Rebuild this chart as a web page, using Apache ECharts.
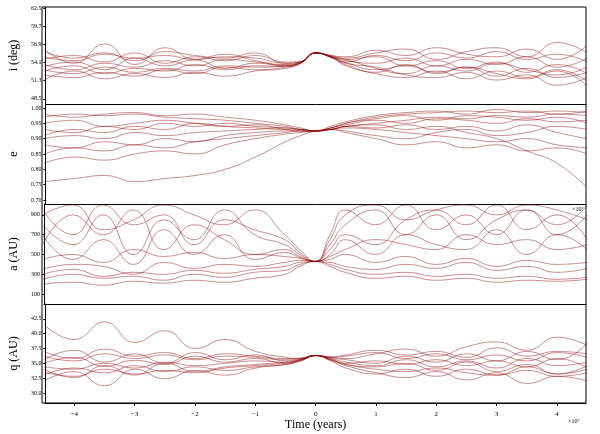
<!DOCTYPE html><html><head><meta charset="utf-8">
<script src="https://cdn.jsdelivr.net/npm/echarts@6/dist/echarts.min.js"></script>
<style>html,body{margin:0;background:#fff}#c{width:600px;height:434px}</style></head><body><div id="c"></div>
<script>
const times=[-4.5,-4,-3.5,-3,-2.5,-2,-1.5,-1,-0.5,-0.25,0,0.25,0.5,1,1.5,2,2.5,3,3.5,4,4.5];
const xTicks=[-4,-3,-2,-1,0,1,2,3,4];
const incl=[
[53.5,54.2,53.0,54.8,53.6,54.5,53.2,54.0,53.6,54.2,55.6,55.0,54.6,53.2,52.4,53.6,52.8,54.0,53.0,52.2,53.4],
[52.2,51.8,52.6,52.0,53.0,52.4,53.4,53.0,53.4,54.0,55.6,55.1,54.2,55.2,54.4,55.6,54.8,55.8,54.6,55.4,54.2],
[55.0,54.4,55.4,54.8,55.2,54.6,55.0,54.8,54.0,54.2,55.6,54.9,53.8,52.6,53.8,52.4,53.4,52.0,53.2,51.8,52.6],
[56.2,54.0,57.0,53.8,56.4,54.6,55.4,54.4,53.7,54.1,55.6,55.2,54.8,55.6,56.2,54.6,55.8,56.4,55.0,57.2,55.6],
[51.4,52.8,51.6,52.4,51.8,52.6,52.0,52.8,53.2,54.0,55.6,55.0,54.0,53.4,52.2,51.8,52.6,51.4,52.2,50.6,51.8],
[53.8,53.0,54.0,53.4,54.4,53.6,54.6,54.2,53.8,54.2,55.6,55.0,54.4,54.0,54.8,53.6,54.6,53.8,55.0,53.4,54.8],
[54.6,55.2,54.2,55.6,54.0,55.0,54.4,55.2,54.2,54.3,55.6,55.1,54.6,55.0,53.6,54.4,53.2,54.2,52.6,53.8,52.4],
[52.8,53.6,52.4,53.2,52.8,53.8,53.0,53.6,53.5,54.0,55.6,55.0,54.1,53.0,53.6,52.6,53.4,52.4,51.6,52.8,50.4],
[55.8,54.8,55.6,54.4,55.8,55.2,54.8,55.6,54.0,54.2,55.6,55.2,55.0,56.0,55.2,56.4,55.4,55.0,56.2,54.6,56.8],
[53.0,52.4,53.4,52.6,53.2,52.8,53.6,53.4,53.6,54.1,55.6,54.9,53.6,52.4,51.8,52.8,51.6,52.8,51.8,53.0,51.2]];
const ecc=[
[0.95,0.96,0.94,0.95,0.96,0.95,0.94,0.945,0.93,0.925,0.925,0.93,0.94,0.95,0.96,0.97,0.965,0.975,0.97,0.98,0.975],
[0.90,0.91,0.90,0.92,0.91,0.92,0.925,0.93,0.935,0.93,0.925,0.93,0.935,0.93,0.92,0.91,0.90,0.89,0.90,0.88,0.87],
[0.97,0.98,0.975,0.98,0.97,0.965,0.96,0.95,0.94,0.93,0.925,0.935,0.95,0.97,0.98,0.985,0.99,0.985,0.99,0.98,0.99],
[0.85,0.87,0.86,0.88,0.87,0.89,0.90,0.91,0.92,0.925,0.925,0.93,0.94,0.945,0.93,0.94,0.92,0.90,0.86,0.82,0.74],
[0.76,0.77,0.78,0.76,0.77,0.78,0.80,0.84,0.89,0.91,0.925,0.93,0.92,0.90,0.88,0.89,0.87,0.88,0.86,0.87,0.85],
[0.93,0.92,0.94,0.93,0.95,0.94,0.95,0.94,0.935,0.93,0.925,0.935,0.945,0.96,0.95,0.965,0.96,0.95,0.965,0.955,0.96],
[0.98,0.97,0.98,0.985,0.975,0.98,0.97,0.96,0.945,0.935,0.925,0.94,0.955,0.975,0.985,0.99,0.98,0.995,0.985,0.99,0.985],
[0.82,0.84,0.83,0.85,0.86,0.85,0.88,0.90,0.915,0.92,0.925,0.93,0.925,0.91,0.90,0.92,0.93,0.91,0.92,0.94,0.93],
[0.91,0.93,0.92,0.94,0.93,0.95,0.94,0.935,0.93,0.93,0.925,0.935,0.95,0.965,0.975,0.96,0.975,0.97,0.96,0.97,0.95],
[0.88,0.87,0.89,0.88,0.90,0.89,0.91,0.92,0.925,0.925,0.925,0.93,0.94,0.935,0.945,0.93,0.94,0.925,0.945,0.92,0.90]];
const semi=[
[800,600,900,500,850,650,950,700,600,500,430,600,800,950,700,900,650,850,950,700,900],
[300,350,280,320,300,340,310,350,380,420,430,450,500,420,480,400,460,380,440,400,420],
[600,900,700,950,550,800,650,500,550,480,430,550,700,600,850,950,800,1000,750,900,650],
[200,220,190,230,210,240,220,260,300,380,430,400,350,300,320,280,300,260,280,250,270],
[950,700,1000,800,900,600,850,750,650,520,430,700,950,800,1000,750,900,700,950,800,1000],
[450,500,420,550,480,520,460,500,480,460,430,480,550,650,600,550,700,600,650,550,600],
[700,450,650,400,750,500,700,450,520,470,430,500,650,500,700,600,550,750,500,700,550],
[350,400,380,300,420,360,400,380,420,440,430,420,380,350,400,360,420,340,380,320,360],
[900,1000,750,850,1000,900,800,950,700,550,430,650,900,1000,850,950,1000,900,1000,950,850],
[250,300,260,280,240,300,270,320,340,400,430,380,320,260,280,240,260,220,240,230,250]];
const peri=[
[35.0,36.0,34.5,35.5,34.8,36.2,35.2,35.8,35.0,35.6,36.3,35.8,35.2,34.6,35.6,34.4,35.4,34.2,35.8,34.6,35.2],
[33.5,32.8,34.0,33.2,33.8,33.4,34.2,34.6,35.0,35.5,36.3,35.6,34.8,34.0,33.6,34.2,33.4,33.0,33.8,32.8,33.4],
[41.5,39.0,42.0,38.5,40.5,37.5,39.0,37.0,36.0,35.8,36.3,36.0,35.8,36.6,37.4,36.2,37.8,38.6,37.2,39.4,38.0],
[36.2,35.4,36.6,35.8,36.4,35.6,36.2,36.0,35.6,35.8,36.3,36.0,36.2,36.8,35.8,36.6,35.6,36.4,35.4,36.8,36.0],
[32.0,33.6,31.2,34.0,32.4,33.8,33.0,34.2,34.8,35.4,36.3,35.5,34.6,33.4,32.6,33.6,32.2,33.4,31.6,32.8,32.0],
[34.4,34.0,35.0,34.2,35.2,34.6,35.0,35.4,35.2,35.6,36.3,35.7,35.0,35.4,34.8,35.6,34.6,35.4,34.4,35.8,34.2],
[37.0,35.8,37.4,36.2,36.8,35.8,36.6,36.2,35.8,35.9,36.3,35.9,35.6,35.0,36.2,35.2,36.6,35.4,37.0,35.6,38.4],
[33.0,34.2,33.4,34.6,33.6,34.4,33.8,34.4,34.8,35.4,36.3,35.4,34.2,33.2,34.0,32.8,34.0,33.0,34.4,33.2,34.0],
[35.6,37.2,35.2,36.6,35.0,36.8,35.6,36.4,35.4,35.7,36.3,36.1,36.4,37.2,36.4,37.0,36.0,37.6,36.2,37.0,36.6],
[34.0,32.6,34.6,33.0,35.0,33.6,34.4,34.8,35.2,35.6,36.3,35.6,34.8,34.4,35.0,33.8,35.2,33.6,34.8,33.2,34.6]];
const iTicks=[48.5,51.3,54.1,56.9,59.7,62.5];
const eTicks=[0.70,0.75,0.80,0.85,0.90,0.95,1.00];
const aTicks=[100,300,500,700,900];
const qTicks=[30.0,32.5,35.0,37.5,40.0,42.5];

const F='Liberation Serif';
const panels=[
 {name:'i (deg)',data:incl,min:47.7,max:62.7,ticks:iTicks,fmt:v=>v.toFixed(1),top:7,h:97},
 {name:'e',data:ecc,min:0.687,max:1.013,ticks:eTicks,fmt:v=>v.toFixed(2),top:104,h:100},
 {name:'a (AU)',data:semi,min:0,max:1010,ticks:aTicks,fmt:v=>String(v),top:204,h:100},
 {name:'q (AU)',data:peri,min:28.3,max:45,ticks:qTicks,fmt:v=>v.toFixed(1),top:304,h:99}];
const grid=[],xAxis=[],yAxis=[],series=[];
panels.forEach((p,k)=>{
 grid.push({left:42,right:14,top:p.top,height:p.h});
 const last=k===3;
 xAxis.push({type:'value',gridIndex:k,min:-4.48,max:4.48,
  axisLine:{show:true,onZero:false,lineStyle:{color:'#000'}},
  axisTick:{show:last,inside:false,length:3,customValues:xTicks,lineStyle:{color:'#000'}},
  axisLabel:{show:last,customValues:xTicks,fontFamily:F,fontSize:7,color:'#000',formatter:v=>v<0?'\u2212'+(-v):String(v)},
  splitLine:{show:false},
  name:last?'Time (years)':'',nameLocation:'middle',nameGap:14,nameTextStyle:{fontFamily:F,fontSize:12,color:'#000'}});
 yAxis.push({type:'value',gridIndex:k,min:p.min,max:p.max,
  axisLine:{show:true,onZero:false,lineStyle:{color:'#000'}},
  axisTick:{show:true,length:2,customValues:p.ticks,lineStyle:{color:'#000'}},
  axisLabel:{customValues:p.ticks,formatter:p.fmt,fontFamily:F,fontSize:6,color:'#000',margin:4},
  splitLine:{show:false},
  name:p.name,nameLocation:'middle',nameGap:22,nameTextStyle:{fontFamily:F,fontSize:12,color:'#000'}});
 p.data.forEach(arr=>series.push({type:'line',xAxisIndex:k,yAxisIndex:k,smooth:true,symbol:'none',silent:true,
  data:times.map((t,j)=>[t,arr[j]]),lineStyle:{width:1,color:'rgba(140,5,5,0.45)'}}));
});
const ch=echarts.init(document.getElementById('c'),null,{renderer:'canvas'});
ch.setOption({animation:false,grid,xAxis,yAxis,series,
 graphic:[{type:'rect',shape:{x:42,y:7,width:544,height:396},style:{fill:'none',stroke:'#000',lineWidth:1}},
 {type:'text',left:568,top:418,style:{text:'\u00d710\u2077',font:'6px "Liberation Serif"',fill:'#000'}},
 {type:'text',left:572,top:206,style:{text:'\u00d710\u2077',font:'6px "Liberation Serif"',fill:'#000'}}]});
</script></body></html>
